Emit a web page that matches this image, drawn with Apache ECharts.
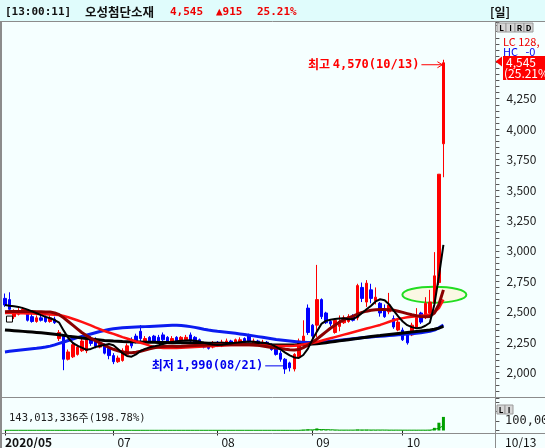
<!DOCTYPE html>
<html><head><meta charset="utf-8">
<script src="https://cdn.jsdelivr.net/npm/echarts@6/dist/echarts.min.js"></script>
<style>html,body{margin:0;padding:0;background:#f5ffff}#c{width:545px;height:448px}</style>
</head><body><div id="c"></div>
<script>
// ---- data ----
const slotCount = 109;
const monthTicks = [[0,'2020/05'],[24,'07'],[47,'08'],[68,'09'],[88,'10']];
const opens = [
2610,2600,2460,2480,2500,2480,2460,2420,2450,2460,
2420,2440,2280,2300,2110,2130,2150,2180,2180,2280,
2270,2210,2220,2200,2140,2090,2100,2150,2260,2300,
2340,2250,2290,2300,2290,2310,2290,2250,2290,2260,
2270,2310,2290,2270,2240,2230,2210,2250,2220,2230,
2260,2240,2250,2280,2310,2240,2260,2230,2250,2230,
2200,2160,2110,2080,2030,2130,2250,2530,2390,2390,
2600,2490,2420,2330,2380,2410,2420,2460,2450,2700,
2580,2680,2590,2570,2520,2500,2445,2350,2350,2330,
2310,2375,2490,2457,2490,2572,2740,3880];
const closes = [
2555,2520,2500,2510,2520,2430,2420,2450,2430,2420,
2450,2410,2330,2110,2170,2230,2210,2260,2270,2240,
2215,2240,2160,2140,2090,2120,2180,2220,2220,2250,
2280,2280,2260,2260,2250,2270,2260,2280,2260,2290,
2290,2260,2250,2240,2210,2200,2240,2220,2250,2260,
2240,2270,2270,2250,2260,2260,2240,2250,2230,2190,
2150,2110,2030,2040,2150,2260,2300,2330,2300,2600,
2460,2410,2400,2430,2420,2450,2460,2430,2715,2610,
2735,2610,2620,2490,2460,2555,2375,2415,2270,2245,
2390,2455,2415,2570,2580,2795,3630,4545];
const lows = [
2540,2490,2440,2470,2490,2420,2410,2410,2420,2410,
2410,2400,2260,2020,2100,2120,2140,2170,2160,2220,
2200,2200,2150,2110,2070,2080,2090,2140,2200,2240,
2260,2240,2250,2250,2240,2260,2250,2240,2250,2250,
2260,2250,2240,2230,2200,2190,2200,2210,2210,2220,
2230,2230,2240,2240,2250,2230,2230,2220,2210,2180,
2140,2090,1990,2010,2010,2120,2240,2310,2280,2290,
2440,2400,2380,2320,2340,2400,2410,2420,2430,2580,
2540,2570,2560,2460,2450,2480,2360,2340,2260,2230,
2300,2360,2400,2440,2480,2560,2720,3605];
const highs = [
2650,2660,2520,2530,2540,2500,2480,2470,2470,2470,
2470,2460,2350,2310,2190,2250,2230,2280,2300,2300,
2290,2260,2240,2210,2160,2140,2200,2240,2290,2320,
2390,2300,2300,2310,2310,2330,2300,2300,2300,2300,
2310,2330,2300,2280,2250,2250,2260,2260,2270,2280,
2270,2280,2290,2290,2320,2280,2270,2270,2260,2240,
2210,2180,2120,2090,2160,2280,2430,2560,2400,2885,
2610,2500,2440,2440,2470,2470,2480,2480,2730,2740,
2760,2730,2700,2580,2560,2655,2470,2440,2370,2340,
2410,2530,2500,2620,2680,2990,3630,4570];
const ma5 = [
2556,2550,2545,2540,2530,2518,2503,2488,2472,2458,
2447,2432,2410,2345,2285,2245,2222,2205,2188,2195,
2210,2219,2228,2235,2225,2195,2160,2137,2131,2150,
2178,2195,2208,2216,2225,2235,2245,2252,2258,2262,
2265,2266,2262,2255,2245,2238,2232,2228,2230,2235,
2240,2245,2250,2253,2255,2254,2250,2246,2242,2230,
2212,2190,2165,2142,2125,2120,2145,2195,2270,2337,
2400,2425,2435,2440,2445,2447,2438,2440,2460,2490,
2520,2550,2585,2603,2595,2560,2510,2462,2420,2390,
2374,2365,2368,2385,2410,2560,2790,3050];
const ma10 = [
2501,2502,2503,2503,2503,2502,2502,2501,2500,2499,
2498,2490,2476,2450,2420,2390,2360,2330,2305,2282,
2262,2244,2226,2208,2192,2180,2170,2165,2164,2168,
2176,2186,2196,2204,2210,2214,2216,2216,2215,2216,
2218,2220,2222,2224,2226,2228,2229,2230,2230,2230,
2230,2230,2230,2230,2229,2228,2224,2218,2212,2206,
2202,2198,2192,2188,2186,2190,2205,2225,2250,2275,
2305,2335,2365,2390,2415,2435,2450,2465,2480,2495,
2505,2512,2516,2518,2518,2516,2512,2504,2495,2485,
2475,2467,2462,2460,2462,2490,2560,2680];
const ma20 = [
2490,2490,2489,2488,2487,2486,2485,2484,2482,2480,
2478,2476,2473,2465,2455,2443,2430,2417,2403,2388,
2372,2357,2342,2330,2318,2305,2292,2280,2268,2256,
2245,2234,2222,2212,2206,2203,2202,2202,2203,2205,
2207,2209,2211,2213,2215,2217,2219,2221,2223,2225,
2227,2227,2228,2228,2228,2227,2226,2224,2222,2220,
2219,2218,2218,2218,2220,2225,2232,2238,2244,2252,
2262,2272,2282,2292,2302,2312,2322,2332,2342,2352,
2362,2372,2382,2392,2405,2418,2430,2440,2448,2455,
2460,2464,2468,2472,2478,2495,2530,2600];
const ma60 = [
2351,2348,2345,2342,2339,2336,2333,2330,2327,2324,
2320,2316,2312,2306,2300,2295,2290,2285,2281,2277,
2273,2269,2265,2262,2259,2257,2255,2254,2253,2252,
2251,2250,2250,2249,2248,2248,2247,2246,2246,2245,
2245,2244,2244,2243,2243,2242,2242,2241,2241,2240,
2240,2239,2238,2237,2236,2234,2232,2230,2229,2228,
2228,2227,2227,2227,2228,2229,2230,2232,2235,2238,
2242,2246,2251,2256,2261,2266,2271,2276,2281,2286,
2291,2296,2301,2305,2310,2314,2318,2322,2326,2330,
2334,2338,2342,2346,2350,2356,2366,2380];
const ma120 = [
2170,2175,2180,2184,2188,2192,2196,2200,2205,2210,
2218,2228,2240,2252,2264,2276,2288,2298,2308,2318,
2328,2338,2346,2354,2360,2364,2368,2370,2372,2374,
2376,2378,2380,2382,2384,2386,2388,2389,2390,2388,
2384,2378,2372,2365,2357,2350,2345,2340,2336,2332,
2328,2323,2318,2313,2308,2302,2296,2290,2284,2278,
2272,2268,2264,2260,2256,2252,2250,2248,2247,2248,
2250,2254,2258,2262,2266,2270,2274,2278,2282,2286,
2290,2293,2296,2299,2302,2305,2308,2311,2314,2317,
2320,2324,2328,2333,2340,2350,2368,2392];
const volumes = [
3200000,2100000,1800000,1500000,1200000,1600000,1100000,900000,800000,1000000,
900000,800000,2500000,4800000,2200000,1900000,1200000,1400000,1600000,1100000,
900000,800000,1000000,900000,1200000,1000000,1300000,1500000,1400000,1600000,
2100000,900000,800000,700000,900000,1200000,800000,700000,600000,900000,
800000,1100000,700000,600000,800000,700000,900000,600000,700000,800000,
600000,700000,800000,600000,1200000,700000,600000,700000,600000,900000,
1300000,1500000,2600000,2000000,2400000,3500000,8000000,12000000,6000000,22000000,
9000000,5000000,3500000,4000000,3000000,2800000,2500000,2200000,10000000,7000000,
8000000,5000000,4500000,3500000,3000000,4000000,3500000,2500000,3000000,2800000,
3200000,3600000,3000000,4000000,6000000,28000000,82000000,143013336];
const volMa = [
2000000,2000000,2000000,2000000,2000000,2000000,2000000,2000000,2000000,2000000,
2000000,2000000,2000000,2000000,2000000,2000000,2000000,2000000,2000000,2000000,
2000000,2000000,2000000,2000000,2000000,2000000,2000000,2000000,2000000,2000000,
2000000,2000000,2000000,2000000,2000000,2000000,2000000,2000000,2000000,2000000,
2000000,2000000,2000000,2000000,2000000,2000000,2000000,2000000,2000000,2000000,
2000000,2000000,2000000,2000000,2000000,2000000,2000000,2000000,2000000,2000000,
2000000,2000000,2000000,2000000,2000000,2000000,4000000,6000000,7000000,10000000,
10000000,9000000,8000000,6000000,4000000,4000000,4000000,4000000,5000000,5000000,
5000000,5000000,5000000,5000000,5000000,4000000,4000000,4000000,3500000,3500000,
3500000,3500000,3500000,3500000,4000000,10000000,25000000,50000000];
const priceTickLabels = [2000,2250,2500,2750,3000,3250,3500,3750,4000,4250];

// ---- chart ----
const F = '"Noto Sans CJK KR","Noto Sans",sans-serif';
const M = '"DejaVu Sans Mono","Liberation Mono",monospace';
const categories = Array.from({length: slotCount}, (_, i) => String(i));
const tickMap = new Map(monthTicks);
const candleData = opens.map((o, i) => [o, closes[i], lows[i], highs[i]]);
const fmt = v => String(v).replace(/\B(?=(\d{3})+(?!\d))/g, ',');

const chart = echarts.init(document.getElementById('c'), null, {renderer: 'canvas', width: 545, height: 448});
const line = (data, color, width, z) => ({
  type: 'line', xAxisIndex: 0, yAxisIndex: 0, data, showSymbol: false, symbol: 'none',
  silent: true, z, lineStyle: {color, width}
});
chart.setOption({
  backgroundColor: '#f5ffff',
  animation: false,
  grid: [
    {left: 2.7, top: 22, width: 492.7, height: 375},
    {left: 2.7, top: 398, width: 492.7, height: 32.5}
  ],
  xAxis: [
    {type: 'category', gridIndex: 0, data: categories, boundaryGap: true,
     axisLine: {show: false}, axisTick: {show: false}, axisLabel: {show: false}, splitLine: {show: false}},
    {type: 'category', gridIndex: 1, data: categories, boundaryGap: true, offset: 3,
     axisLine: {show: false},
     axisTick: {show: true, alignWithLabel: true, length: 5, interval: i => tickMap.has(i), lineStyle: {color: '#222'}},
     axisLabel: {show: false},
     splitLine: {show: false}}
  ],
  yAxis: [
    {type: 'value', gridIndex: 0, position: 'right', min: 1800, max: 4880, interval: 50,
     axisLine: {show: false}, splitLine: {show: false},
     axisTick: {show: true, length: 4, lineStyle: {color: '#555'}},
     axisLabel: {margin: 11, fontFamily: F, fontSize: 12, color: '#222',
       formatter: v => priceTickLabels.includes(v) ? fmt(v) : ''}},
    {type: 'value', gridIndex: 1, position: 'right', min: 0, max: 342000000, interval: 100000000,
     axisLine: {show: false}, splitLine: {show: false},
     axisTick: {show: true, length: 4, lineStyle: {color: '#555'}},
     axisLabel: {show: false}}
  ],
  series: [
    {type: 'candlestick', xAxisIndex: 0, yAxisIndex: 0, data: candleData, barWidth: 3, z: 2,
     itemStyle: {color: '#ff0000', color0: '#0000ff', borderColor: '#ff0000', borderColor0: '#0000ff', borderWidth: 1}},
    line(ma120, '#0a1cf0', 3, 3),
    line(ma60, '#000000', 3, 4),
    line(ma20, '#ff1010', 2.5, 5),
    line(ma10, '#8b0000', 3, 6),
    line(ma5, '#000000', 2, 7),
    {type: 'bar', xAxisIndex: 1, yAxisIndex: 1, data: volumes, barWidth: 3, itemStyle: {color: '#00a000'}},
    {type: 'line', xAxisIndex: 1, yAxisIndex: 1, data: volMa, showSymbol: false, symbol: 'none', silent: true,
     lineStyle: {color: '#00a000', width: 1}}
  ]
});

const px = (i, v) => chart.convertToPixel({xAxisIndex: 0, yAxisIndex: 0}, [i, v]);
let hiIdx = 0, loIdx = 0;
highs.forEach((h, i) => { if (h > highs[hiIdx]) hiIdx = i; });
lows.forEach((l, i) => { if (l < lows[loIdx]) loIdx = i; });
const hp = px(hiIdx, highs[hiIdx]);
const lp = px(loIdx, lows[loIdx]);
const ep = px(95, 2640);
const sq = px(1, 2440);
const volTickY = chart.convertToPixel({xAxisIndex: 1, yAxisIndex: 1}, [0, 100000000])[1];

const T = (x, y, text, font, fill, align, extra) => ({type: 'text', z: 50, style: Object.assign({x, y, text, font, fill,
  align: align || 'left', verticalAlign: 'middle', textAlign: align || 'left', textVerticalAlign: 'middle'}, extra || {})});
const L = (x1, y1, x2, y2, stroke, w, z) => ({type: 'line', z: z || 40, silent: true,
  shape: {x1, y1, x2, y2}, style: {stroke, lineWidth: w || 1}});
const g = [];
// green ellipse annotation (under series)
g.push({type: 'ellipse', z: -1, shape: {cx: ep[0], cy: ep[1], rx: 32, ry: 8}, style: {fill: '#fbf8e4', stroke: '#22dd22', lineWidth: 2}});
// title bar
g.push({type: 'rect', z: 30, shape: {x: 0, y: 0, width: 545, height: 21}, style: {fill: '#e0fcfc'}});
g.push(T(5, 12, '[13:00:11]', 'bold 11px ' + M, '#111'));
g.push(T(85, 12, '오성첨단소재', 'bold 12.5px ' + F, '#111'));
g.push(T(170, 12, '4,545', 'bold 11px ' + M, '#ee0000'));
g.push(T(216, 12, '▲915', 'bold 11px ' + M, '#ee0000'));
g.push(T(257, 12, '25.21%', 'bold 11px ' + M, '#ee0000'));
g.push(T(490, 12, '[일]', 'bold 12px ' + F, '#111'));
// frame lines
g.push(L(0, 21.5, 545, 21.5, '#8c8c8c', 1));
g.push(L(1, 21, 1, 448, '#8c8c8c', 2));
g.push(L(495.5, 21, 495.5, 448, '#8c8c8c', 1));
g.push(L(0, 397.5, 545, 397.5, '#8c8c8c', 1));
g.push(L(0, 433.5, 545, 433.5, '#8c8c8c', 1));
// LIRD buttons
['L', 'I', 'R', 'D'].forEach((c, k) => {
  g.push({type: 'rect', z: 45, shape: {x: 497 + k * 9, y: 23, width: 9, height: 9}, style: {fill: '#d6d6d6', stroke: '#9a9a9a', lineWidth: 1}});
  g.push(T(501.5 + k * 9, 27.8, c, 'bold 8px ' + F, '#000', 'center'));
});
['L', 'I'].forEach((c, k) => {
  g.push({type: 'rect', z: 45, shape: {x: 497 + k * 8, y: 405, width: 8, height: 9}, style: {fill: '#d6d6d6', stroke: '#9a9a9a', lineWidth: 1}});
  g.push(T(501 + k * 8, 409.8, c, 'bold 8px ' + F, '#000', 'center'));
});
// right side info
g.push(T(503, 41.5, 'LC 128,', '11px ' + F, '#ee0000'));
g.push(T(503, 51.5, 'HC   -0', '11px ' + F, '#0000ee'));
g.push({type: 'polygon', z: 60, shape: {points: [[495.5, 61.5], [502, 56.5], [502, 66.5]]}, style: {fill: '#ff0000'}});
g.push({type: 'rect', z: 60, shape: {x: 503, y: 56, width: 42, height: 24}, style: {fill: '#ff0000'}});
g.push(Object.assign(T(506, 62, '4,545', '12px ' + F, '#ffffff'), {z: 61}));
g.push(Object.assign(T(504, 73.5, '(25.21%', '12px ' + F, '#ffffff'), {z: 61}));
// volume text, volume axis label and dates
g.push(T(9, 418, '{m|143,013,336}{k|주}{m|(198.78%)}', '11px ' + F, '#222', 'left',
  {rich: {m: {font: '10.5px ' + M, fill: '#222'}, k: {font: '11px ' + F, fill: '#222'}}}));
g.push(T(505, volTickY, '100,000,000', '12px ' + M, '#222'));
monthTicks.forEach(([i, lab]) => {
  const x = chart.convertToPixel({xAxisIndex: 1, yAxisIndex: 1}, [i, 0])[0];
  const bold = lab.length > 2;
  g.push(T(bold ? 5 : x + 4, 442, lab, (bold ? 'bold ' : '') + '12px ' + F, '#111'));
});
g.push(T(505, 442, '10/13', '12px ' + F, '#111'));
// high / low annotations
const annRich = c => ({rich: {a: {font: 'bold 12px ' + F, fill: c}, b: {font: 'bold 12px ' + M, fill: c}}});
g.push(T(hp[0] - 24, hp[1] + 5, '{a|최고 }{b|4,570(10/13)}', 'bold 12px ' + F, '#ff0000', 'right', annRich('#ff0000')));
g.push(L(hp[0] - 22, hp[1] + 5, hp[0] - 1, hp[1] + 5, '#ff0000', 1));
g.push({type: 'polyline', z: 40, shape: {points: [[hp[0] - 6, hp[1] + 2], [hp[0] - 1, hp[1] + 5], [hp[0] - 6, hp[1] + 8]]}, style: {stroke: '#ff0000', lineWidth: 1, fill: null}});
g.push(T(lp[0] - 22, lp[1] - 8, '{a|최저 }{b|1,990(08/21)}', 'bold 12px ' + F, '#0000ee', 'right', annRich('#0000ee')));
g.push(L(lp[0] - 20, lp[1] - 8, lp[0] - 1, lp[1] - 8, '#0000ee', 1));
// small event marker
g.push({type: 'rect', z: 40, shape: {x: sq[0] - 3, y: sq[1] - 3, width: 6, height: 6}, style: {fill: '#ffffff', stroke: '#000000', lineWidth: 1}});
chart.setOption({graphic: {elements: g}});
</script>
</body></html>
